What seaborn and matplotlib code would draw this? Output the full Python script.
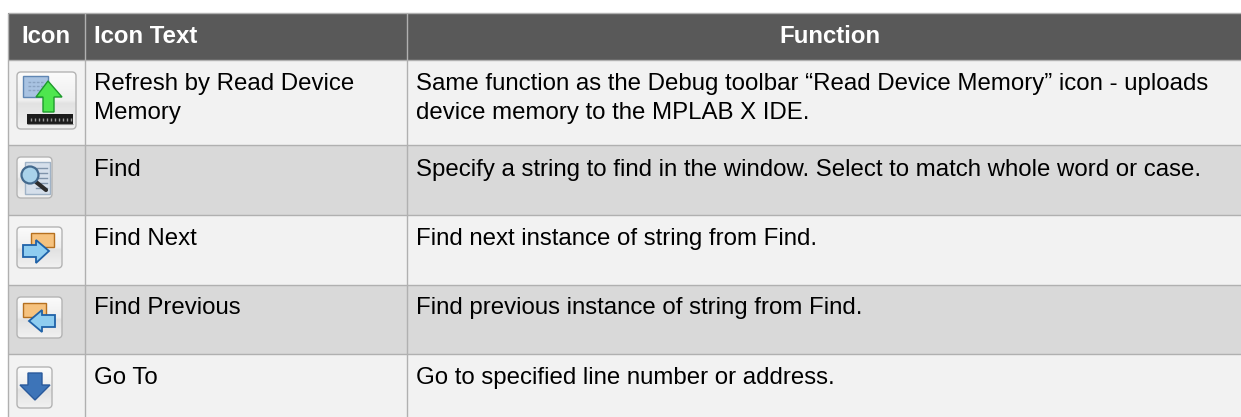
import numpy as np
import matplotlib
matplotlib.use('Agg')
import matplotlib.pyplot as plt
import seaborn as sns
from matplotlib.colors import ListedColormap, LinearSegmentedColormap
from matplotlib.patches import FancyBboxPatch, Polygon, Rectangle, Circle

# table content
header_labels = ['Icon', 'Icon Text', 'Function']
icon_texts = ['Refresh by Read Device\nMemory', 'Find', 'Find Next', 'Find Previous', 'Go To']
function_texts = [
    'Same function as the Debug toolbar \u201cRead Device Memory\u201d icon - uploads\n'
    'device memory to the MPLAB X IDE.',
    'Specify a string to find in the window. Select to match whole word or case.',
    'Find next instance of string from Find.',
    'Find previous instance of string from Find.',
    'Go to specified line number or address.',
]
row_shades = [1, 2, 3, 2, 3, 2]  # header, then alternating rows

# layout in pixels
W, H = 1241, 417
row_edges = [13, 60, 145, 215, 285, 354, 417]
col_edges = [8, 85, 407, 1241]
baselines = [90, 176, 245, 314, 384]
header_centers = [46, None, 830]
header_baseline = 43
line_gap = 29
FS = 17.28

palette = ['#ffffff', '#595959', '#f2f2f2', '#d9d9d9']
line_color = '#b0b0b0'
blue_light, blue_edge = '#8fcdf0', '#1f62a8'
orange_fill, orange_edge = '#f6c27e', '#b5701f'

plt.rcParams['font.family'] = ['Liberation Sans', 'DejaVu Sans']

# one heatmap cell per pixel so the row bands land exactly
grid = np.zeros((H, W), dtype=int)
for i, shade in enumerate(row_shades):
    grid[row_edges[i]:row_edges[i + 1], col_edges[0]:] = shade

fig = plt.figure(figsize=(W / 100, H / 100), dpi=100)
ax = fig.add_axes([0, 0, 1, 1])
sns.heatmap(grid, ax=ax, cmap=ListedColormap(palette), vmin=0, vmax=3, cbar=False,
            xticklabels=False, yticklabels=False)

ax.hlines(row_edges[:-1], col_edges[0], W, color=line_color, lw=1.0, zorder=3)
ax.vlines(col_edges[:-1], row_edges[0], H, color=line_color, lw=1.0, zorder=3)

# text
ax.text(header_centers[0], header_baseline, header_labels[0], color='white',
        fontsize=FS, fontweight='bold', ha='center', va='baseline')
ax.text(col_edges[1] + 9, header_baseline, header_labels[1], color='white',
        fontsize=FS, fontweight='bold', ha='left', va='baseline')
ax.text(header_centers[2], header_baseline, header_labels[2], color='white',
        fontsize=FS, fontweight='bold', ha='center', va='baseline')

for i in range(len(icon_texts)):
    for j, line in enumerate(icon_texts[i].split('\n')):
        ax.text(col_edges[1] + 9, baselines[i] + j * line_gap, line, color='black',
                fontsize=FS, ha='left', va='baseline')
    for j, line in enumerate(function_texts[i].split('\n')):
        ax.text(col_edges[2] + 9, baselines[i] + j * line_gap, line, color='black',
                fontsize=FS, ha='left', va='baseline')

btn_cmap = LinearSegmentedColormap.from_list(
    'btn', [(0, '#fbfbfb'), (0.5, '#efefef'), (0.55, '#e2e2e2'), (1, '#f1f1f1')])


def button(x0, y0, x1, y1):
    patch = FancyBboxPatch((x0 + 3, y0 + 3), x1 - x0 - 6, y1 - y0 - 6,
                           boxstyle='round,pad=3,rounding_size=4',
                           fc='none', ec='#b4b4b4', lw=1.0, zorder=6)
    ax.add_patch(patch)
    grad = np.linspace(0, 1, 64)[:, None]
    im = ax.imshow(grad, extent=(x0, x1, y1, y0), cmap=btn_cmap, aspect='auto', zorder=5)
    im.set_clip_path(patch)


def arrow(points, fc, ec, lw=1.0):
    ax.add_patch(Polygon(points, closed=True, fc=fc, ec=ec, lw=lw, zorder=8))


# refresh by read device memory
button(17, 72, 76, 129)
ax.add_patch(Rectangle((23, 76), 25, 21, fc='#a9c3e2', ec='#5f86b3', lw=1, zorder=7))
for yy in (82, 86, 90):
    ax.plot([28, 43], [yy, yy], color='#8aa3c2', lw=1, ls=(0, (2, 1)), zorder=7)
arrow([(48, 81), (62, 97), (54, 97), (54, 112), (43, 112), (43, 97), (36, 97)], '#4ee64e', '#1d9a2b')
ax.add_patch(Rectangle((27, 114), 46, 10, fc='#1c1c1c', ec='none', zorder=7))
ax.vlines(np.arange(31, 72, 4), 118, 121, color='#9a9a9a', lw=1.0, zorder=8)
ax.hlines(124, 27, 73, color='#8d8d8d', lw=0.8, zorder=8)

# find
button(17, 157, 52, 198)
ax.add_patch(Rectangle((25, 162), 25, 32, fc='#d5dfeb', ec='#9fb2c6', lw=1, zorder=7))
for yy in (168, 173, 178, 183, 188):
    ax.plot([36, 47], [yy, yy], color='#7f93aa', lw=1, zorder=7)
ax.plot([36, 46], [182, 190], color='#2c2c2c', lw=3, zorder=8, solid_capstyle='round')
ax.add_patch(Circle((30, 175), 8.5, fc='#a9d2ea', ec='#43698d', lw=1.6, zorder=9))

# find next
button(17, 227, 62, 268)
ax.add_patch(Rectangle((31, 233), 23, 14, fc=orange_fill, ec=orange_edge, lw=1, zorder=7))
arrow([(23, 245), (36, 245), (36, 240), (49, 251), (36, 263), (36, 257), (23, 257)], blue_light, blue_edge, 1.3)

# find previous
button(17, 297, 62, 338)
ax.add_patch(Rectangle((23, 303), 23, 14, fc=orange_fill, ec=orange_edge, lw=1, zorder=7))
arrow([(29, 321), (42, 310), (42, 315), (55, 315), (55, 327), (42, 327), (42, 332)], blue_light, blue_edge, 1.3)

# go to
button(17, 367, 52, 408)
arrow([(28, 373), (42, 373), (42, 385), (50, 385), (35, 400), (20, 385), (28, 385)], '#3d74b8', '#2a5a9c', 1.0)

ax.set_xlim(0, W)
ax.set_ylim(H, 0)
ax.set_xlabel('')
ax.set_ylabel('')
fig.savefig('out.png', dpi=100)
plt.close(fig)
